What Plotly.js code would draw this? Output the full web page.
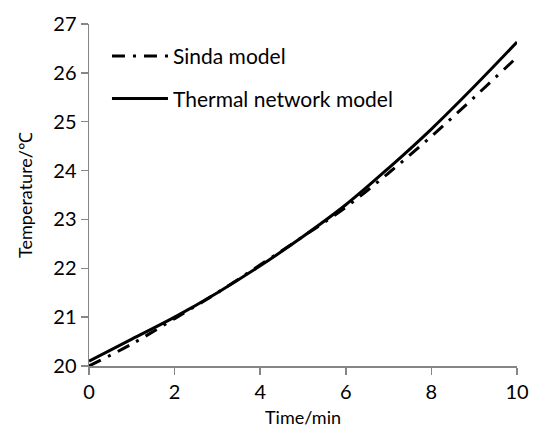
<!DOCTYPE html>
<html>
<head>
<meta charset="utf-8">
<script src="https://cdn.plot.ly/plotly-3.0.1.min.js"></script>
<style>html,body{margin:0;padding:0;background:#fff;}#chart{width:538px;height:428px;}</style>
</head>
<body>
<div id="chart"></div>
<script>
var timeMin = [0, 1, 2, 3, 4, 5, 6, 7, 8, 9, 10];
var sindaModel = [20.0, 20.45, 20.97, 21.5, 22.07, 22.65, 23.25, 23.95, 24.7, 25.5, 26.32];
var thermalNetworkModel = [20.1, 20.55, 21.0, 21.5, 22.05, 22.65, 23.3, 24.05, 24.85, 25.72, 26.63];
var xTicks = [0, 2, 4, 6, 8, 10];
var yTicks = [20, 21, 22, 23, 24, 25, 26, 27];

var fontFam = 'Lato, Open Sans, Liberation Sans, sans-serif';
var traces = [
  {x: timeMin, y: sindaModel, name: 'Sinda model', mode: 'lines', line: {shape: 'spline', color: '#000', width: 3, dash: '13px,8px,3px,8px'}, legendgroup: 'a'},
  {x: timeMin, y: thermalNetworkModel, name: 'Thermal network model', mode: 'lines', line: {shape: 'spline', color: '#000', width: 3}, legendgroup: 'b'}
];
var axisCommon = {
  showgrid: false, zeroline: false, showline: true, linecolor: '#868686', linewidth: 1.5,
  ticks: 'outside', ticklen: 7, tickwidth: 1.5, tickcolor: '#868686',
  tickfont: {family: fontFam, size: 20, color: '#000'}
};
var layout = {
  width: 538, height: 428,
  margin: {l: 89, r: 21, t: 24, b: 62},
  paper_bgcolor: '#fff', plot_bgcolor: '#fff',
  showlegend: true,
  legend: {x: 0.042, y: 0.965, xanchor: 'left', yanchor: 'top', bgcolor: 'rgba(0,0,0,0)',
    font: {family: fontFam, size: 21, color: '#000'}, itemwidth: 56, tracegroupgap: 12, traceorder: 'grouped'},
  xaxis: Object.assign({}, axisCommon, {range: [0, 10], tickvals: xTicks, ticktext: xTicks.map(String),
    title: {text: 'Time/min', font: {family: fontFam, size: 18, color: '#000'}}}),
  yaxis: Object.assign({}, axisCommon, {range: [20, 27], tickvals: yTicks, ticktext: yTicks.map(String),
    title: {text: 'Temperature/℃', font: {family: fontFam, size: 18, color: '#000'}, standoff: 16}})
};
Plotly.newPlot('chart', traces, layout, {staticPlot: true, displayModeBar: false});
</script>
</body>
</html>
